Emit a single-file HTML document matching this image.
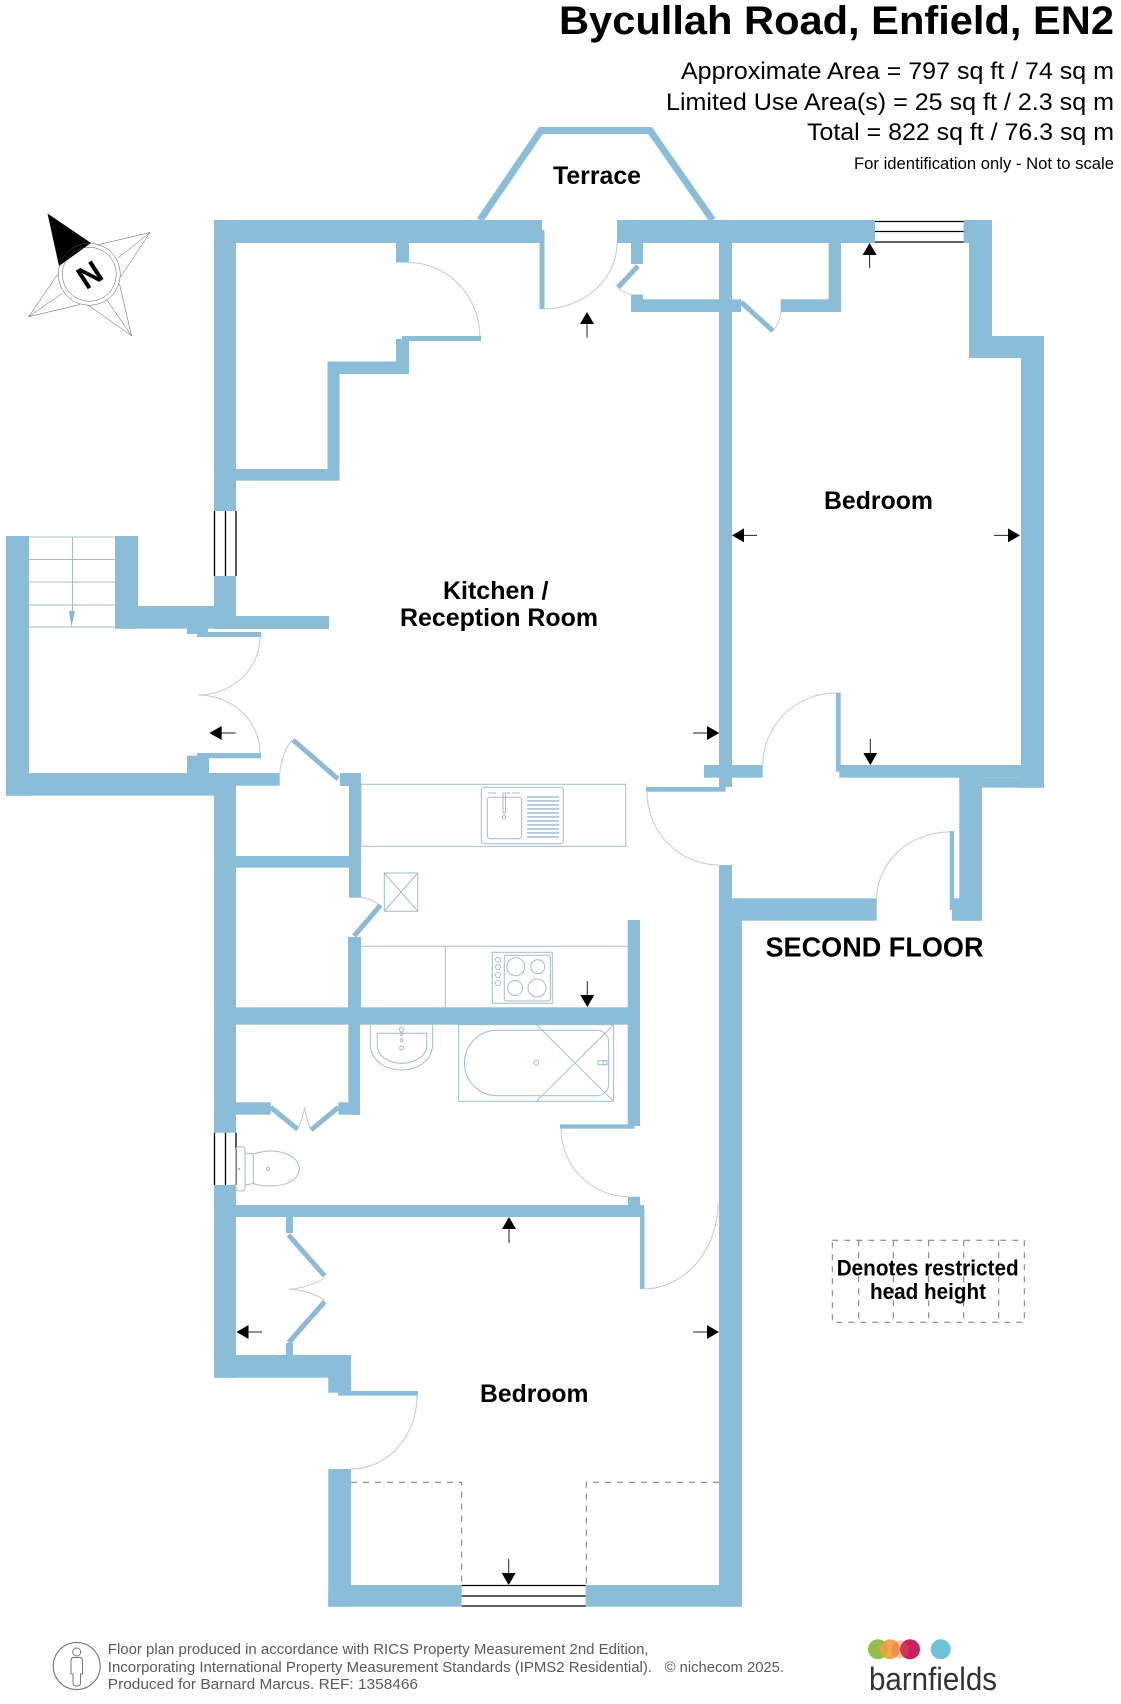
<!DOCTYPE html>
<html><head><meta charset="utf-8"><style>
html,body{margin:0;padding:0;background:#fff;width:1121px;height:1704px;overflow:hidden}
svg{display:block}
text{font-family:"Liberation Sans",sans-serif;fill:#000}
.b{font-weight:bold}
.w{fill:#8bbdd9}
.l{stroke:#8fbad3;stroke-linecap:butt;fill:none}
.a{fill:none;stroke:#c6c9cb;stroke-width:1}
.f{fill:none;stroke:#a3bcc8;stroke-width:1}
.d{fill:none;stroke:#777;stroke-width:1;stroke-dasharray:6 6}
.k{stroke:#000;stroke-width:1.3;fill:none}
</style></head><body>
<svg width="1121" height="1704" viewBox="0 0 1121 1704" xmlns="http://www.w3.org/2000/svg">
<rect width="1121" height="1704" fill="#fff"/>

<!-- Walls -->
<g class="w">
<rect x="214" y="220" width="328" height="23"/>
<rect x="617" y="220" width="258" height="23"/>
<rect x="214" y="220" width="22" height="291"/>
<rect x="396" y="243" width="13" height="19.5"/>
<rect x="396" y="339" width="13" height="35"/>
<rect x="327.5" y="361.5" width="81.5" height="12.5"/>
<rect x="327.5" y="361.5" width="12" height="119"/>
<rect x="236" y="469" width="103.5" height="11.7"/>
<rect x="402" y="336" width="79" height="5"/>
<rect x="539.5" y="230" width="5" height="79"/>
<rect x="631" y="243" width="12" height="21"/>
<rect x="631" y="294.6" width="12" height="6"/>
<rect x="631" y="299.3" width="110" height="12.7"/>
<rect x="719" y="243" width="13" height="544"/>
<rect x="780.7" y="299.3" width="60.3" height="12.7"/>
<rect x="828.6" y="243" width="12.4" height="69"/>
<rect x="963.6" y="220" width="28.4" height="23"/>
<rect x="969" y="220" width="23" height="138"/>
<rect x="969" y="336" width="75" height="22"/>
<rect x="1021" y="336" width="23" height="451.7"/>
<rect x="959.3" y="777.7" width="84.7" height="10"/>
<rect x="959.3" y="765" width="22.7" height="155.7"/>
<rect x="839.3" y="765" width="204.7" height="12.7"/>
<rect x="836" y="692.7" width="4.7" height="79"/>
<rect x="704" y="765" width="58.7" height="12.7"/>
<rect x="646" y="787" width="79.7" height="4.7"/>
<rect x="719" y="865" width="13" height="40"/>
<rect x="719" y="898.3" width="157.7" height="22.4"/>
<rect x="719" y="898.3" width="23" height="708.4"/>
<rect x="952" y="898.3" width="30" height="22.4"/>
<rect x="949.7" y="831" width="4.3" height="79"/>

<!-- Stairs area -->
<rect x="6" y="536" width="23" height="259.7"/>
<rect x="115" y="536" width="23" height="92.7"/>
<rect x="115" y="606" width="99" height="22.7"/>
<rect x="214" y="576" width="22" height="53"/>
<rect x="236" y="616" width="93" height="13"/>
<rect x="187" y="625" width="21" height="9"/>
<rect x="197" y="632" width="64" height="5"/>
<rect x="197" y="753" width="64" height="5.3"/>
<rect x="187" y="755.7" width="22" height="30"/>
<rect x="6" y="773" width="230" height="22.7"/>
<rect x="236" y="773" width="43.7" height="12.7"/>
<rect x="214" y="773" width="22" height="359.7"/>
<rect x="340" y="773" width="21" height="13"/>
<rect x="349" y="773" width="12" height="124.7"/>
<rect x="236" y="856" width="113" height="11.7"/>
<rect x="348" y="937" width="13" height="71"/>
<rect x="214" y="1007.3" width="426" height="17.4"/>
<rect x="627.7" y="920" width="12.3" height="206"/>
<rect x="348.3" y="1024" width="11.7" height="90.7"/>
<rect x="338.3" y="1102.3" width="21.7" height="12.4"/>
<rect x="236" y="1102.3" width="34.7" height="12.4"/>
<rect x="560" y="1124.3" width="74.6" height="4.4"/>
<rect x="628" y="1196.7" width="12" height="10"/>
<rect x="236" y="1205" width="408" height="12"/>
<rect x="640" y="1209" width="4.5" height="80"/>
<rect x="214" y="1185" width="22" height="192.7"/>
<rect x="286" y="1217" width="7" height="16"/>
<rect x="286" y="1343" width="7" height="12"/>
<rect x="214" y="1355" width="137" height="22.7"/>
<rect x="328.3" y="1355" width="22.7" height="37.7"/>
<rect x="338" y="1391" width="80" height="4.7"/>
<rect x="328.3" y="1469" width="22.7" height="137.7"/>
<rect x="328.3" y="1585" width="133.4" height="21.7"/>
<rect x="585.7" y="1585" width="156.3" height="21.7"/>
</g>

<!-- Terrace -->
<polyline points="480,220 541,130.5 650,130.5 712.5,220" fill="none" stroke="#8bbdd9" stroke-width="7"/>

<!-- Door leaves -->
<g class="l" stroke-width="5">
<line x1="638" y1="266" x2="618" y2="287.5"/>
<line x1="741" y1="302" x2="773" y2="331"/>
<line x1="293" y1="740" x2="338" y2="779"/>
<line x1="380.7" y1="905" x2="354" y2="936"/>
<line x1="270.7" y1="1107.3" x2="297.7" y2="1129.3"/>
<line x1="338.3" y1="1107.3" x2="311" y2="1130"/>
<line x1="288.5" y1="1235" x2="324.7" y2="1276"/>
<line x1="324.7" y1="1301.7" x2="288.5" y2="1342.7"/>
</g>

<!-- Door arcs -->
<g class="a">
<path d="M409 262.5A72 75 0 0 1 480 337"/>
<path d="M543 309A74 66 0 0 0 617 243"/>
<path d="M618 288Q625 293 632 295"/>
<path d="M773 331Q780 322 781 312"/>
<path d="M762.7 765A73 73 0 0 1 836 693"/>
<path d="M876.7 898A73 67 0 0 1 950 832"/>
<path d="M647 792A72 73 0 0 0 719 865"/>
<path d="M260 637A62 58 0 0 1 198 695"/>
<path d="M198 695A62 58 0 0 1 260 753"/>
<path d="M279.7 773Q282 752 292 740"/>
<path d="M360.7 897Q371 899 378 904"/>
<path d="M297.7 1129Q303 1118 304.5 1107.3"/>
<path d="M311 1130Q306 1118 304.5 1107.3"/>
<path d="M324.7 1278Q308 1288 289 1289.3"/>
<path d="M324.7 1300Q308 1290 289 1289.3"/>
<path d="M561 1129A68 68 0 0 0 628 1196.7"/>
<path d="M644 1289A75 86 0 0 0 718 1203"/>
<path d="M417 1396A66 73 0 0 1 351 1469"/>
</g>

<!-- Windows -->
<g class="k">
<path d="M875 221.5H963.6M875 231.5H963.6M875 242H963.6"/>
<path d="M214.5 511V576M225.5 511V576M236 511V576"/>
<path d="M214.5 1132.7V1185M225.5 1132.7V1185M236 1132.7V1185"/>
<path d="M461.7 1585.5H585.7M461.7 1596H585.7M461.7 1606H585.7"/>
</g>

<!-- Stairs -->
<g class="f" stroke="#93b0bd">
<path d="M29 537H115M29 559.5H115M29 582H115M29 605H115M29 627H115M72.5 537V611"/>
</g>
<polygon points="69,611 75,611 71.5,627" fill="#8fb4c4"/>

<!-- Kitchen fittings -->
<g class="f">
<rect x="361" y="784.3" width="264.7" height="62"/>
<rect x="481.3" y="787.3" width="82" height="56.4" rx="3"/>
<rect x="487.3" y="797.3" width="34.4" height="41.4" rx="3"/>
<rect x="503" y="793" width="2.5" height="20"/>
<circle cx="504" cy="817" r="1.6"/>
<path d="M488 793H496M505 793H510M512 793H520"/>
<path d="M527 797H559M527 801H559M527 805H559M527 809H559M527 813H559M527 817H559M527 821H559M527 825H559M527 829H559M527 833H559M527 837H559" stroke="#8db3c4" stroke-width="1.3"/>
<rect x="384.3" y="873" width="33.4" height="38.3"/>
<path d="M384.3 873L417.7 911.3M417.7 873L384.3 911.3"/>
<path d="M361 946.3H628M445.3 946.3V1007.3"/>
<rect x="492.3" y="952.3" width="60" height="51"/>
<rect x="504.3" y="955.3" width="46" height="45.7" rx="2"/>
<circle cx="515.7" cy="966.7" r="9"/>
<circle cx="537.7" cy="966.7" r="7"/>
<circle cx="515" cy="988" r="7.5"/>
<circle cx="537" cy="988" r="9"/>
<circle cx="498" cy="959.7" r="2.5"/>
<circle cx="498" cy="967" r="2.5"/>
<circle cx="498" cy="975" r="2.5"/>
<circle cx="498" cy="983" r="2.5"/>
</g>

<!-- Bathroom fittings -->
<g class="f">
<path d="M370.3 1025V1044C370.3 1060 385 1070 401.6 1070C418 1070 432.7 1060 432.7 1044V1025"/>
<path d="M377.3 1033.3H426.7V1046C426.7 1056 414 1063.3 401.6 1063.3C389 1063.3 377.3 1056 377.3 1046Z"/>
<circle cx="401.6" cy="1029.5" r="2.2"/>
<circle cx="401.6" cy="1034" r="1.6"/>
<circle cx="401.6" cy="1040" r="1.4"/>
<circle cx="401.6" cy="1048" r="2"/>
<rect x="458.6" y="1024.7" width="155" height="76.6"/>
<path d="M497 1030.3H596.7A12 12 0 0 1 608.7 1042.3V1083.7A12 12 0 0 1 596.7 1095.7H497A32.5 32.7 0 0 1 464.5 1063A32.5 32.7 0 0 1 497 1030.3Z"/>
<path d="M536.4 1024.7L613.6 1101.3M613.6 1024.7L536.4 1101.3"/>
<circle cx="536.4" cy="1062.7" r="2.4"/>
<rect x="598" y="1060.7" width="9" height="4"/>
<circle cx="605" cy="1062.7" r="2"/>
<rect x="235.7" y="1146.7" width="9.3" height="44.3" rx="3"/>
<path d="M245 1153L253.3 1154C258 1152.5 264 1151 271 1151C287 1151 299.3 1159 299.3 1169C299.3 1179 287 1186 271 1186C264 1186 258 1185 253.3 1183.5L245 1185"/>
<path d="M253.3 1154V1183.5"/>
<circle cx="268" cy="1169" r="1.5"/>
<circle cx="239" cy="1169" r="0.8"/>
</g>

<!-- Dashed restricted height -->
<g class="d">
<path d="M351 1482.3H461.7V1585"/>
<path d="M719 1482.3H586.3V1585"/>
<rect x="832.3" y="1240.3" width="192" height="82"/>
<path d="M858.7 1240.3V1322.3M893.3 1240.3V1322.3M928.7 1240.3V1322.3M963.7 1240.3V1322.3M998.7 1240.3V1322.3"/>
</g>

<!-- Arrows -->
<g fill="#000" stroke="none">
<polygon points="587,312 580,324 594,324"/>
<polygon points="869.6,243 862.6,255 876.6,255"/>
<polygon points="732,535.4 744,528.4 744,542.4"/>
<polygon points="1020,535.4 1008,528.4 1008,542.4"/>
<polygon points="209.3,733 221.7,726 221.7,740"/>
<polygon points="719.3,733 707,726 707,740"/>
<polygon points="870.3,765 863.3,753 877.3,753"/>
<polygon points="587.3,1007 580.3,995 594.3,995"/>
<polygon points="509,1217 502,1229 516,1229"/>
<polygon points="236.5,1332 248.5,1325 248.5,1339"/>
<polygon points="719,1332 707,1325 707,1339"/>
<polygon points="508.7,1585 501.7,1573 515.7,1573"/>
</g>
<g stroke="#222" stroke-width="1" fill="none">
<path d="M587 324V337.5M869.6 255V268M744 535.4H757M1008 535.4H994M221.7 733H235.7M707 733H693M870.3 753V739M587.3 995V981M509 1229V1243M248 1332H262M707 1332H693M508.7 1573V1559"/>
</g>

<!-- Compass -->
<g>
<polygon points="47.5,213.5 91,243 59,266" fill="#000"/>
<g fill="none" stroke="#555" stroke-width="0.5">
<path d="M150 232.5L99 244.5M150 232.5L118 258M150 232.5L120.5 277"/>
<path d="M131.5 335.7L119.5 284M131.5 335.7L107 300M131.5 335.7L88 305"/>
<path d="M28.6 316.8L80 304.5M28.6 316.8L62 293.5M28.6 316.8L58 274"/>
<circle cx="89.3" cy="274.3" r="31"/>
<circle cx="89.3" cy="274.3" r="27"/>
</g>
<text x="89.3" y="286" text-anchor="middle" class="b" font-size="32" transform="rotate(-33 89.3 274.3)">N</text>
</g>

<!-- Title text -->
<text x="559" y="34" class="b" font-size="39.5" textLength="555" lengthAdjust="spacingAndGlyphs">Bycullah Road, Enfield, EN2</text>
<text x="681" y="79" font-size="24.5" textLength="433" lengthAdjust="spacingAndGlyphs">Approximate Area = 797 sq ft / 74 sq m</text>
<text x="666" y="110" font-size="24.5" textLength="448" lengthAdjust="spacingAndGlyphs">Limited Use Area(s) = 25 sq ft / 2.3 sq m</text>
<text x="807" y="140" font-size="24.5" textLength="307" lengthAdjust="spacingAndGlyphs">Total = 822 sq ft / 76.3 sq m</text>
<text x="854" y="169" font-size="17" textLength="260" lengthAdjust="spacingAndGlyphs">For identification only - Not to scale</text>

<!-- Room labels -->
<text x="553" y="184" class="b" font-size="25" textLength="88" lengthAdjust="spacingAndGlyphs">Terrace</text>
<text x="824" y="509" class="b" font-size="25" textLength="109" lengthAdjust="spacingAndGlyphs">Bedroom</text>
<text x="443" y="599" class="b" font-size="25" textLength="105.5" lengthAdjust="spacingAndGlyphs">Kitchen /</text>
<text x="400" y="626" class="b" font-size="25" textLength="198" lengthAdjust="spacingAndGlyphs">Reception Room</text>
<text x="765.5" y="956.7" class="b" font-size="28" textLength="218" lengthAdjust="spacingAndGlyphs">SECOND FLOOR</text>
<text x="480" y="1402" class="b" font-size="25" textLength="108.5" lengthAdjust="spacingAndGlyphs">Bedroom</text>
<text x="836.7" y="1275.7" class="b" font-size="22" textLength="182" lengthAdjust="spacingAndGlyphs">Denotes restricted</text>
<text x="870" y="1299" class="b" font-size="22" textLength="116" lengthAdjust="spacingAndGlyphs">head height</text>

<!-- Footer -->
<ellipse cx="76.7" cy="1666" rx="23.5" ry="23.5" fill="none" stroke="#666" stroke-width="1"/>
<circle cx="76.7" cy="1652" r="4" fill="none" stroke="#777" stroke-width="1"/>
<path d="M73 1657.5H80.5Q82.5 1658 82.5 1661V1674H80.5V1683Q80.5 1686 76.7 1686Q73 1686 73 1683V1674H71V1661Q71 1658 73 1657.5Z" fill="none" stroke="#777" stroke-width="1"/>
<g font-size="14.5">
<text x="107.8" y="1654" style="fill:#5a5a5a" textLength="540.8" lengthAdjust="spacingAndGlyphs">Floor plan produced in accordance with RICS Property Measurement 2nd Edition,</text>
<text x="107.8" y="1672" style="fill:#5a5a5a" textLength="544.2" lengthAdjust="spacingAndGlyphs">Incorporating International Property Measurement Standards (IPMS2 Residential).</text>
<text x="664.6" y="1672" style="fill:#5a5a5a" textLength="119.4" lengthAdjust="spacingAndGlyphs">© nichecom 2025.</text>
<text x="107.8" y="1689" style="fill:#5a5a5a" textLength="310.2" lengthAdjust="spacingAndGlyphs">Produced for Barnard Marcus.   REF: 1358466</text>
</g>
<circle cx="878" cy="1649.3" r="10" fill="#8fbf4d"/>
<circle cx="890" cy="1649.3" r="10" fill="#f0a03e" opacity="0.9"/>
<circle cx="910" cy="1649.3" r="10" fill="#c81f5f"/>
<circle cx="900" cy="1649.3" r="9" fill="#e2603f" opacity="0.35"/>
<circle cx="940.7" cy="1649.3" r="10" fill="#6fc3d6"/>
<text x="869" y="1690" font-size="32" style="fill:#333" textLength="128" lengthAdjust="spacingAndGlyphs">barnfields</text>
</svg>
</body></html>
